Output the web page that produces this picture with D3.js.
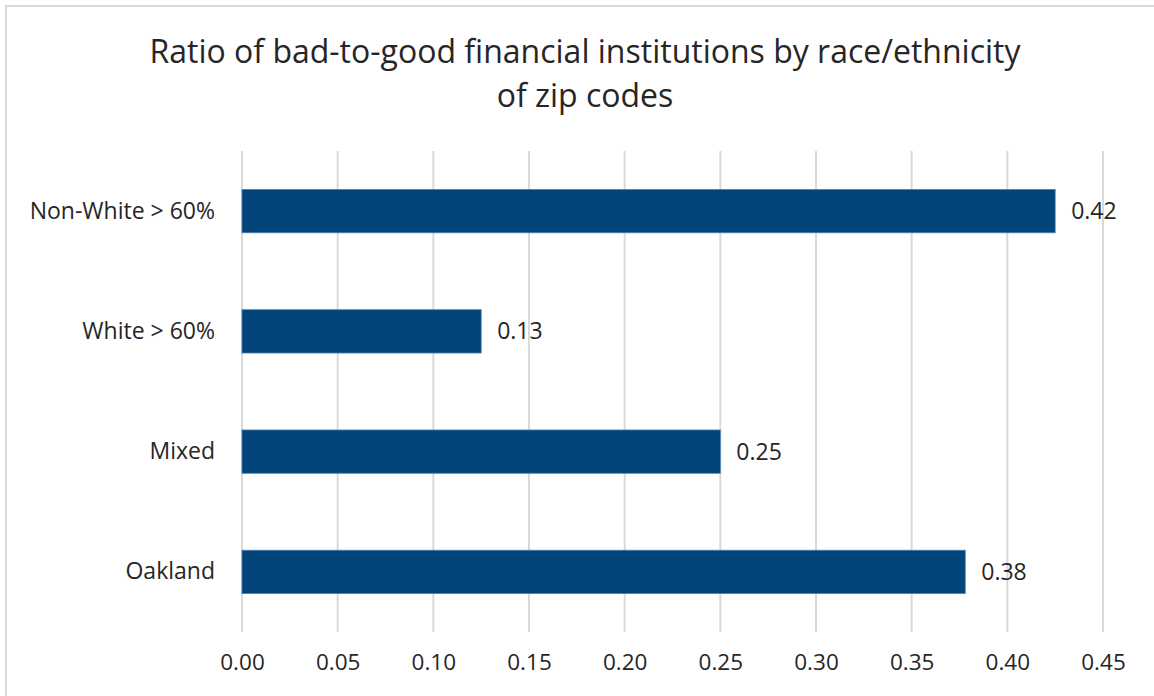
<!DOCTYPE html>
<html>
<head>
<meta charset="utf-8">
<script src="https://cdn.jsdelivr.net/npm/d3@7"></script>
<style>
  body { margin: 0; background: #fff; }
  text { font-family: "Open Sans", sans-serif; fill: #262626; }
</style>
</head>
<body>
<svg id="chart"></svg>
<script>
// chart data
const categories = ['Non-White > 60%', 'White > 60%', 'Mixed', 'Oakland'];
const ratios = [0.425, 0.125, 0.25, 0.378];
const tickValues = [0, 0.05, 0.10, 0.15, 0.20, 0.25, 0.30, 0.35, 0.40, 0.45];
const titleLines = ['Ratio of bad-to-good financial institutions by race/ethnicity', 'of zip codes'];

const width = 1154, height = 696;
const margin = {top: 151, right: 51, bottom: 64, left: 242};
const innerW = width - margin.left - margin.right;
const innerH = height - margin.top - margin.bottom;

const svg = d3.select('#chart')
    .attr('width', width)
    .attr('height', height);

// outer chart border (only top/left visible in the crop)
svg.append('rect')
    .attr('x', 6).attr('y', 6)
    .attr('width', width + 20).attr('height', height + 20)
    .attr('fill', 'none')
    .attr('stroke', '#d9d9d9')
    .attr('stroke-width', 2);

// title
svg.append('text')
    .attr('x', 585)
    .attr('y', 63)
    .attr('text-anchor', 'middle')
    .style('font-size', '32px')
    .selectAll('tspan')
    .data(titleLines)
  .join('tspan')
    .attr('x', 585)
    .attr('dy', (d, i) => i === 0 ? 0 : 44)
    .text(d => d);

const chart = svg.append('g')
    .attr('transform', `translate(${margin.left},${margin.top})`);

const xScale = d3.scaleLinear()
    .domain([0, 0.45])
    .range([0, innerW]);

const yScale = d3.scaleBand()
    .domain(categories)
    .range([0, innerH])
    .paddingInner(0.64)
    .paddingOuter(0.32);

// vertical gridlines
chart.append('g')
    .selectAll('line')
    .data(tickValues)
  .join('line')
    .attr('x1', d => xScale(d))
    .attr('x2', d => xScale(d))
    .attr('y1', 0)
    .attr('y2', innerH)
    .attr('stroke', '#d9d9d9')
    .attr('stroke-width', 2);

// x axis labels
const xAxis = d3.axisBottom(xScale)
    .tickValues(tickValues)
    .tickSize(0)
    .tickPadding(22)
    .tickFormat(d3.format('.2f'));

const xAxisG = chart.append('g')
    .attr('transform', `translate(0,${innerH})`)
    .call(xAxis);
xAxisG.select('.domain').remove();
xAxisG.selectAll('text')
    .style('font-size', '22.5px')
    .attr('fill', '#262626');

// y axis labels
const yAxis = d3.axisLeft(yScale)
    .tickSize(0)
    .tickPadding(27);

const yAxisG = chart.append('g').call(yAxis);
yAxisG.select('.domain').remove();
yAxisG.selectAll('text')
    .style('font-size', '23px')
    .attr('fill', '#262626');

// bars
chart.append('g')
    .selectAll('rect')
    .data(categories)
  .join('rect')
    .attr('x', 0)
    .attr('y', d => yScale(d))
    .attr('width', (d, i) => xScale(ratios[i]))
    .attr('height', yScale.bandwidth())
    .attr('fill', '#004479')
    .attr('stroke', '#4a7fb0')
    .attr('stroke-width', 0.8);

// value labels
chart.append('g')
    .selectAll('text')
    .data(categories)
  .join('text')
    .attr('x', (d, i) => xScale(ratios[i]) + 16)
    .attr('y', d => yScale(d) + yScale.bandwidth() / 2)
    .attr('dy', '0.35em')
    .style('font-size', '23px')
    .text((d, i) => d3.format('.2f')(ratios[i]));
</script>
</body>
</html>
